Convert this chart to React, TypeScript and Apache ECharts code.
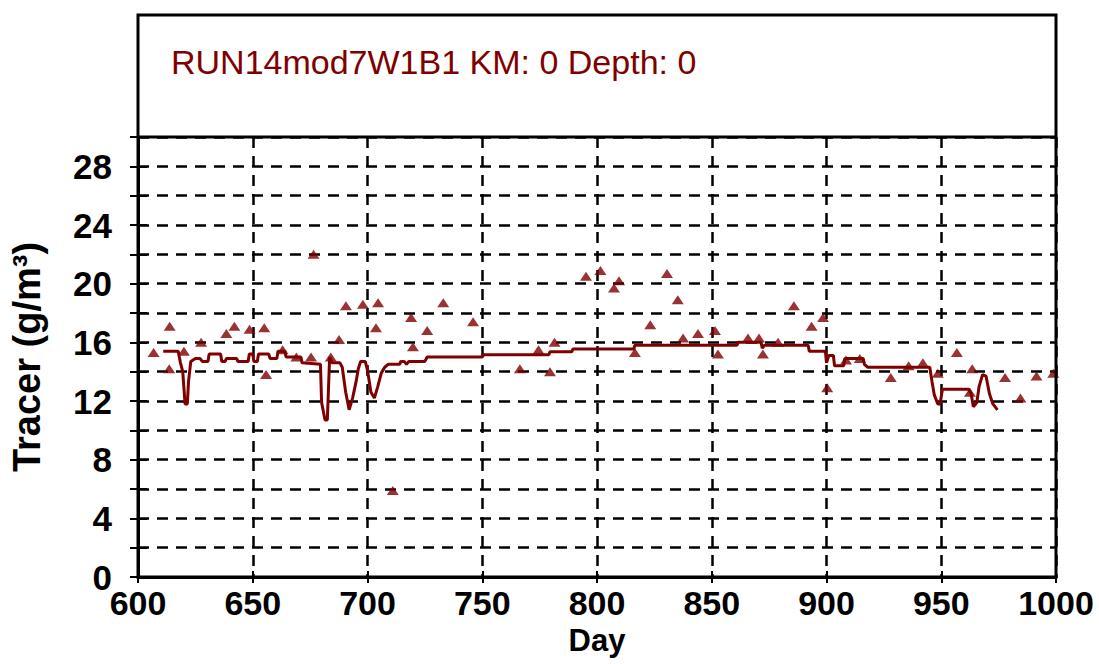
import React, { useEffect, useRef } from "react";
import * as echarts from "echarts";

const titleText = "RUN14mod7W1B1 KM: 0 Depth: 0";
const xAxisName = "Day";
const yAxisName = "Tracer (g/m³)";

const xMin = 600;
const xMax = 1000;
const xStep = 50;
const yMin = 0;
const yMax = 30;
const yStep = 2;
const yLabelEvery = 4;

// Simulated tracer (line)
const simDays = [
  611, 617.5, 618.5, 619.5, 620.5, 621.5, 622, 623, 625, 627, 628, 630.5, 631, 636, 636.5, 638,
  638.5, 643, 643.5, 648, 648.5, 650, 650.5, 652, 652.5, 657, 657.5, 660.5, 661, 664, 664.5, 671,
  671.5, 679.5, 680, 681.5, 682.5, 683.5, 684.5, 688, 689, 690.5, 692, 693.5, 695, 696, 697, 699,
  700, 701.5, 703, 704.5, 706, 707.5, 709, 714, 714.5, 716, 717, 718, 725, 726, 750, 750.5, 779,
  779.5, 789, 789.5, 816, 816.5, 861, 861.5, 871.5, 872, 873, 892, 892.5, 899.5, 900, 901, 903,
  903.5, 907.5, 908, 916, 916.5, 918, 945, 946, 947, 948.5, 949.5, 950.5, 962, 963, 964, 965.5,
  966.5, 968, 969.5, 971, 972.5, 974.5,
];
const simValues = [
  15.4, 15.4, 14.6, 14.0, 11.8, 11.8, 13.3, 14.7, 14.9, 14.9, 14.7, 14.7, 15.2, 15.2, 14.7, 14.7,
  14.9, 14.9, 14.7, 14.7, 15.2, 15.2, 14.7, 14.7, 15.2, 15.2, 14.9, 14.9, 15.4, 15.4, 15.0, 15.0,
  14.6, 14.5, 11.9, 10.7, 10.7, 15.0, 14.6, 14.6, 14.3, 12.6, 11.4, 12.2, 13.3, 14.2, 14.7, 14.7,
  14.1, 12.6, 12.2, 13.0, 13.9, 14.3, 14.5, 14.5, 14.7, 14.7, 14.5, 14.7, 14.7, 15.0, 15.0, 15.15, 15.15,
  15.35, 15.35, 15.55, 15.55, 15.8, 15.8, 16.0, 16.0, 15.6, 15.8, 15.8, 15.4, 15.4, 14.6, 15.1, 15.1,
  14.4, 14.4, 14.9, 14.9, 14.5, 14.3, 14.3, 13.3, 12.4, 11.8, 11.8, 12.8, 12.8, 12.5, 11.6, 11.9,
  13.0, 13.8, 13.7, 12.5, 11.8, 11.4,
];

// Observed tracer (triangles)
const obsDays = [
  606.8, 613.8, 613.6, 620, 627.5, 638.5, 642, 648.6, 655, 655.8, 663, 669, 675.4, 676.5, 684,
  687.6, 690.6, 698, 703.7, 704.6, 711, 719, 719.8, 726, 733, 746, 766.4, 774.5, 779.5, 781.5,
  795.2, 801.5, 807.4, 809.6, 816.5, 823.2, 830.5, 835.2, 837.5, 844, 851.4, 852.7, 865.8, 870.6,
  872.3, 878.9, 885.8, 893.5, 898.5, 900.3, 908.5, 914.5, 928, 935.8, 942, 948.5, 956.8, 962.5,
  963.5, 977.8, 984.5, 991.5, 998.8,
];
const obsValues = [
  15.3, 17.1, 14.2, 15.4, 16.0, 16.6, 17.1, 16.9, 17.0, 13.8, 15.5, 15.0, 15.0, 22.0, 15.0,
  16.2, 18.5, 18.6, 17.0, 18.7, 5.9, 17.7, 15.7, 16.8, 18.7, 17.4, 14.2, 15.5, 14.0, 16.0,
  20.5, 20.9, 19.7, 20.2, 15.3, 17.2, 20.7, 18.9, 16.3, 16.6, 16.8, 15.2, 16.3, 16.3,
  15.2, 16.0, 18.5, 17.1, 17.7, 12.9, 14.8, 14.9, 13.6, 14.4, 14.6, 13.9, 15.3, 12.6,
  14.2, 13.6, 12.2, 13.7, 13.9,
];

const RED = "#800000";
const BLACK = "#000000";
const LABEL_FONT = "'Liberation Sans', Arial, sans-serif";

const GRID_LEFT = 138;
const GRID_TOP = 137;
const GRID_W = 918;
const GRID_H = 440;
const BOX_TOP = 15;

export default function App() {
  const ref = useRef<HTMLDivElement>(null);

  useEffect(() => {
    if (!ref.current) return;
    const chart = echarts.init(ref.current, null, { renderer: "svg" });

    const simData = simDays.map((d, i) => [d, simValues[i]]);
    const obsData = obsDays.map((d, i) => [d, obsValues[i]]);

    const labelStyle = {
      color: BLACK,
      fontWeight: "bold" as const,
      fontFamily: LABEL_FONT,
    };
    const gridLine = { color: BLACK, width: 2.5, type: [11, 8] };

    const option = {
      animation: false,
      backgroundColor: "#ffffff",
      title: {
        text: titleText,
        left: 166,
        top: 40,
        textStyle: {
          color: RED,
          fontSize: 34,
          fontWeight: "normal",
          fontFamily: LABEL_FONT,
        },
      },
      grid: {
        left: GRID_LEFT,
        top: GRID_TOP,
        width: GRID_W,
        height: GRID_H,
        show: false,
        containLabel: false,
        outerBoundsMode: "none",
      },
      xAxis: [
        {
          type: "value",
          min: xMin,
          max: xMax,
          interval: xStep,
          name: xAxisName,
          nameLocation: "middle",
          nameGap: 48,
          nameMoveOverlap: false,
          nameTextStyle: { ...labelStyle, fontSize: 31 },
          axisLine: { show: true, lineStyle: { color: BLACK, width: 3 } },
          axisTick: { show: true, length: 6, lineStyle: { color: BLACK, width: 2 } },
          axisLabel: {
            ...labelStyle,
            fontSize: 34,
            margin: 9,
            formatter: (v: number) => String(v),
          },
          splitLine: { show: true, lineStyle: gridLine },
        },
        {
          type: "value",
          min: xMin,
          max: xMax,
          interval: xStep,
          position: "bottom",
          axisLine: { show: false },
          axisTick: { show: true, inside: true, length: 6, lineStyle: { color: BLACK, width: 2 } },
          axisLabel: { show: false },
          splitLine: { show: false },
        },
      ],
      yAxis: [
        {
          type: "value",
          min: yMin,
          max: yMax,
          interval: yStep,
          name: yAxisName,
          nameLocation: "middle",
          nameGap: 92,
          nameRotate: 90,
          nameMoveOverlap: false,
          nameTextStyle: { ...labelStyle, fontSize: 38 },
          axisLine: { show: true, lineStyle: { color: BLACK, width: 3 } },
          axisTick: { show: true, length: 8, lineStyle: { color: BLACK, width: 2 } },
          axisLabel: {
            ...labelStyle,
            fontSize: 35,
            margin: 26,
            formatter: (v: number) => (v % yLabelEvery === 0 && v < yMax ? String(v) : ""),
          },
          splitLine: { show: true, lineStyle: gridLine },
        },
        {
          type: "value",
          min: yMin,
          max: yMax,
          interval: yStep,
          position: "left",
          axisLine: { show: false },
          axisTick: { show: true, inside: true, length: 9, lineStyle: { color: BLACK, width: 2 } },
          axisLabel: { show: false },
          splitLine: { show: false },
        },
      ],
      graphic: [
        {
          type: "rect",
          shape: { x: GRID_LEFT, y: BOX_TOP, width: GRID_W, height: GRID_TOP + GRID_H - BOX_TOP },
          style: { fill: "none", stroke: BLACK, lineWidth: 3 },
          silent: true,
          z: 10,
        },
        {
          type: "line",
          shape: { x1: GRID_LEFT, y1: GRID_TOP, x2: GRID_LEFT + GRID_W, y2: GRID_TOP },
          style: { stroke: BLACK, lineWidth: 3 },
          silent: true,
          z: 10,
        },
      ],
      series: [
        {
          name: "Simulated",
          type: "line",
          data: simData,
          showSymbol: false,
          symbol: "none",
          lineStyle: { color: RED, width: 3 },
          z: 3,
        },
        {
          name: "Observed",
          type: "scatter",
          data: obsData,
          symbol: "triangle",
          symbolSize: [12, 9],
          itemStyle: { color: RED },
          z: 4,
        },
      ],
    };

    chart.setOption(option as any);
    return () => chart.dispose();
  }, []);

  return (
    <div
      ref={ref}
      style={{ position: "fixed", left: 0, top: 0, width: 1099, height: 664, background: "#fff" }}
    />
  );
}
